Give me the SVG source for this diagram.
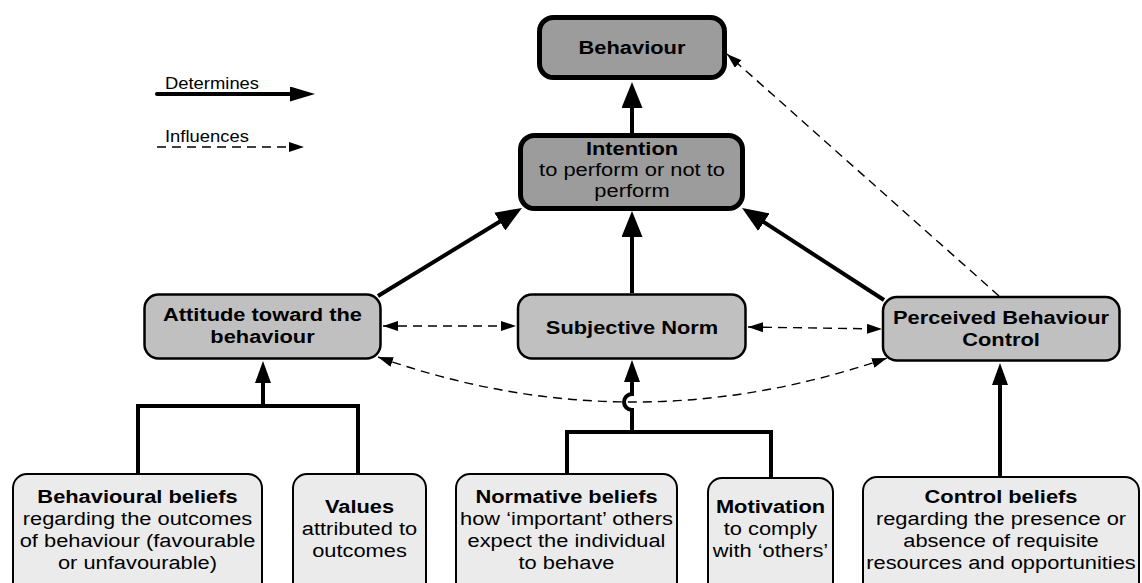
<svg xmlns="http://www.w3.org/2000/svg" width="1142" height="583" viewBox="0 0 1142 583">
<style>
text{font-family:"Liberation Sans",Arial,sans-serif;font-size:19px;fill:#000;text-anchor:middle}
.b{font-weight:bold}
.lg{font-size:16px;text-anchor:start}
.main{fill:#9c9c9c;stroke:#000;stroke-width:5}
.mid{fill:#c0c0c0;stroke:#000;stroke-width:2.5}
.low{fill:#ebebeb;stroke:#000;stroke-width:2}
.solid{fill:none;stroke:#000;stroke-width:4}
.dash{fill:none;stroke:#000;stroke-width:1.4;stroke-dasharray:9 6}
</style>
<defs>
<marker id="big" markerUnits="userSpaceOnUse" viewBox="0 0 26 21" markerWidth="26" markerHeight="21" refX="4" refY="10.5" orient="auto"><path d="M0,0 L26,10.5 L0,21 z" fill="#000"/></marker>
<marker id="sm" markerUnits="userSpaceOnUse" viewBox="0 0 22 16" markerWidth="22" markerHeight="16" refX="4" refY="8" orient="auto"><path d="M0,0 L22,8 L0,16 z" fill="#000"/></marker>
<marker id="lg" markerUnits="userSpaceOnUse" viewBox="0 0 25 15" markerWidth="25" markerHeight="15" refX="4" refY="7.5" orient="auto"><path d="M0,0 L25,7.5 L0,15 z" fill="#000"/></marker>
<marker id="da" markerUnits="userSpaceOnUse" viewBox="0 0 15 10" markerWidth="15" markerHeight="10" refX="15" refY="5" orient="auto-start-reverse"><path d="M0,0 L15,5 L0,10 z" fill="#000"/></marker>
</defs>

<g id="legend">
<text class="lg" transform="translate(165,89) scale(1.15,1)">Determines</text>
<path class="solid" d="M157,94 H294" stroke-linecap="round" marker-end="url(#lg)"/>
<text class="lg" transform="translate(165,142) scale(1.15,1)">Influences</text>
<path class="dash" d="M157,147 H304" marker-end="url(#da)"/>
</g>

<g id="connectors">
<path class="solid" d="M632,133 V104" marker-end="url(#big)"/>
<path class="solid" d="M378,296 L503.2,219.5" marker-end="url(#big)"/>
<path class="solid" d="M632,293 V233" marker-end="url(#big)"/>
<path class="solid" d="M884,300 L760.5,220" marker-end="url(#big)"/>
<path class="solid" d="M138,474 V406 H358 V474"/>
<path class="solid" d="M263,406 V379" marker-end="url(#sm)"/>
<path class="solid" d="M567,474 V432 H771 V478"/>
<path class="solid" d="M632,432 V410 A8,8 0 0 1 632,394 V378" marker-end="url(#sm)"/>
<path class="solid" d="M1000,476 V381" marker-end="url(#sm)"/>
<path class="dash" d="M999,296 L727,54" marker-end="url(#da)"/>
<path class="dash" d="M383,326 H516" marker-start="url(#da)" marker-end="url(#da)"/>
<path class="dash" d="M748,327 L882,329" marker-start="url(#da)" marker-end="url(#da)"/>
<path class="dash" d="M378,357 Q631.5,446.5 887,358" marker-start="url(#da)" marker-end="url(#da)"/>
</g>

<g id="behaviour">
<rect class="main" x="539.5" y="17.5" width="185" height="60" rx="14"/>
<text class="b" transform="translate(632,54) scale(1.15,1)">Behaviour</text>
</g>
<g id="intention">
<rect class="main" x="520.5" y="135.5" width="222" height="73" rx="14"/>
<text class="b" transform="translate(632,155) scale(1.15,1)">Intention</text>
<text transform="translate(632,176) scale(1.15,1)">to perform or not to</text>
<text transform="translate(632,197) scale(1.15,1)">perform</text>
</g>
<g id="attitude">
<rect class="mid" x="144.5" y="294.5" width="236" height="64" rx="14"/>
<text class="b" transform="translate(262.5,321) scale(1.15,1)">Attitude toward the</text>
<text class="b" transform="translate(262.5,343) scale(1.15,1)">behaviour</text>
</g>
<g id="subjective-norm">
<rect class="mid" x="518" y="294.5" width="227.5" height="64" rx="14"/>
<text class="b" transform="translate(632,334) scale(1.15,1)">Subjective Norm</text>
</g>
<g id="pbc">
<rect class="mid" x="883" y="297" width="236.5" height="63.5" rx="14"/>
<text class="b" transform="translate(1001,324) scale(1.15,1)">Perceived Behaviour</text>
<text class="b" transform="translate(1001,346) scale(1.15,1)">Control</text>
</g>
<g id="behavioural-beliefs">
<rect class="low" x="13" y="474" width="249" height="130" rx="14"/>
<text class="b" transform="translate(137.5,503) scale(1.15,1)">Behavioural beliefs</text>
<text transform="translate(137.5,525) scale(1.15,1)">regarding the outcomes</text>
<text transform="translate(137.5,547) scale(1.15,1)">of behaviour (favourable</text>
<text transform="translate(137.5,569) scale(1.15,1)">or unfavourable)</text>
</g>
<g id="values">
<rect class="low" x="293" y="474" width="133" height="130" rx="14"/>
<text class="b" transform="translate(359.5,513) scale(1.15,1)">Values</text>
<text transform="translate(359.5,535) scale(1.15,1)">attributed to</text>
<text transform="translate(359.5,557) scale(1.15,1)">outcomes</text>
</g>
<g id="normative-beliefs">
<rect class="low" x="456" y="474" width="221" height="130" rx="14"/>
<text class="b" transform="translate(566.5,503) scale(1.15,1)">Normative beliefs</text>
<text transform="translate(566.5,525) scale(1.15,1)">how ‘important’ others</text>
<text transform="translate(566.5,547) scale(1.15,1)">expect the individual</text>
<text transform="translate(566.5,569) scale(1.15,1)">to behave</text>
</g>
<g id="motivation">
<rect class="low" x="708" y="478" width="125" height="130" rx="14"/>
<text class="b" transform="translate(770.5,513) scale(1.15,1)">Motivation</text>
<text transform="translate(770.5,535) scale(1.15,1)">to comply</text>
<text transform="translate(770.5,557) scale(1.15,1)">with ‘others’</text>
</g>
<g id="control-beliefs">
<rect class="low" x="863" y="477" width="276" height="130" rx="14"/>
<text class="b" transform="translate(1001,503) scale(1.15,1)">Control beliefs</text>
<text transform="translate(1001,525) scale(1.15,1)">regarding the presence or</text>
<text transform="translate(1001,547) scale(1.15,1)">absence of requisite</text>
<text transform="translate(1001,569) scale(1.15,1)">resources and opportunities</text>
</g>
</svg>
